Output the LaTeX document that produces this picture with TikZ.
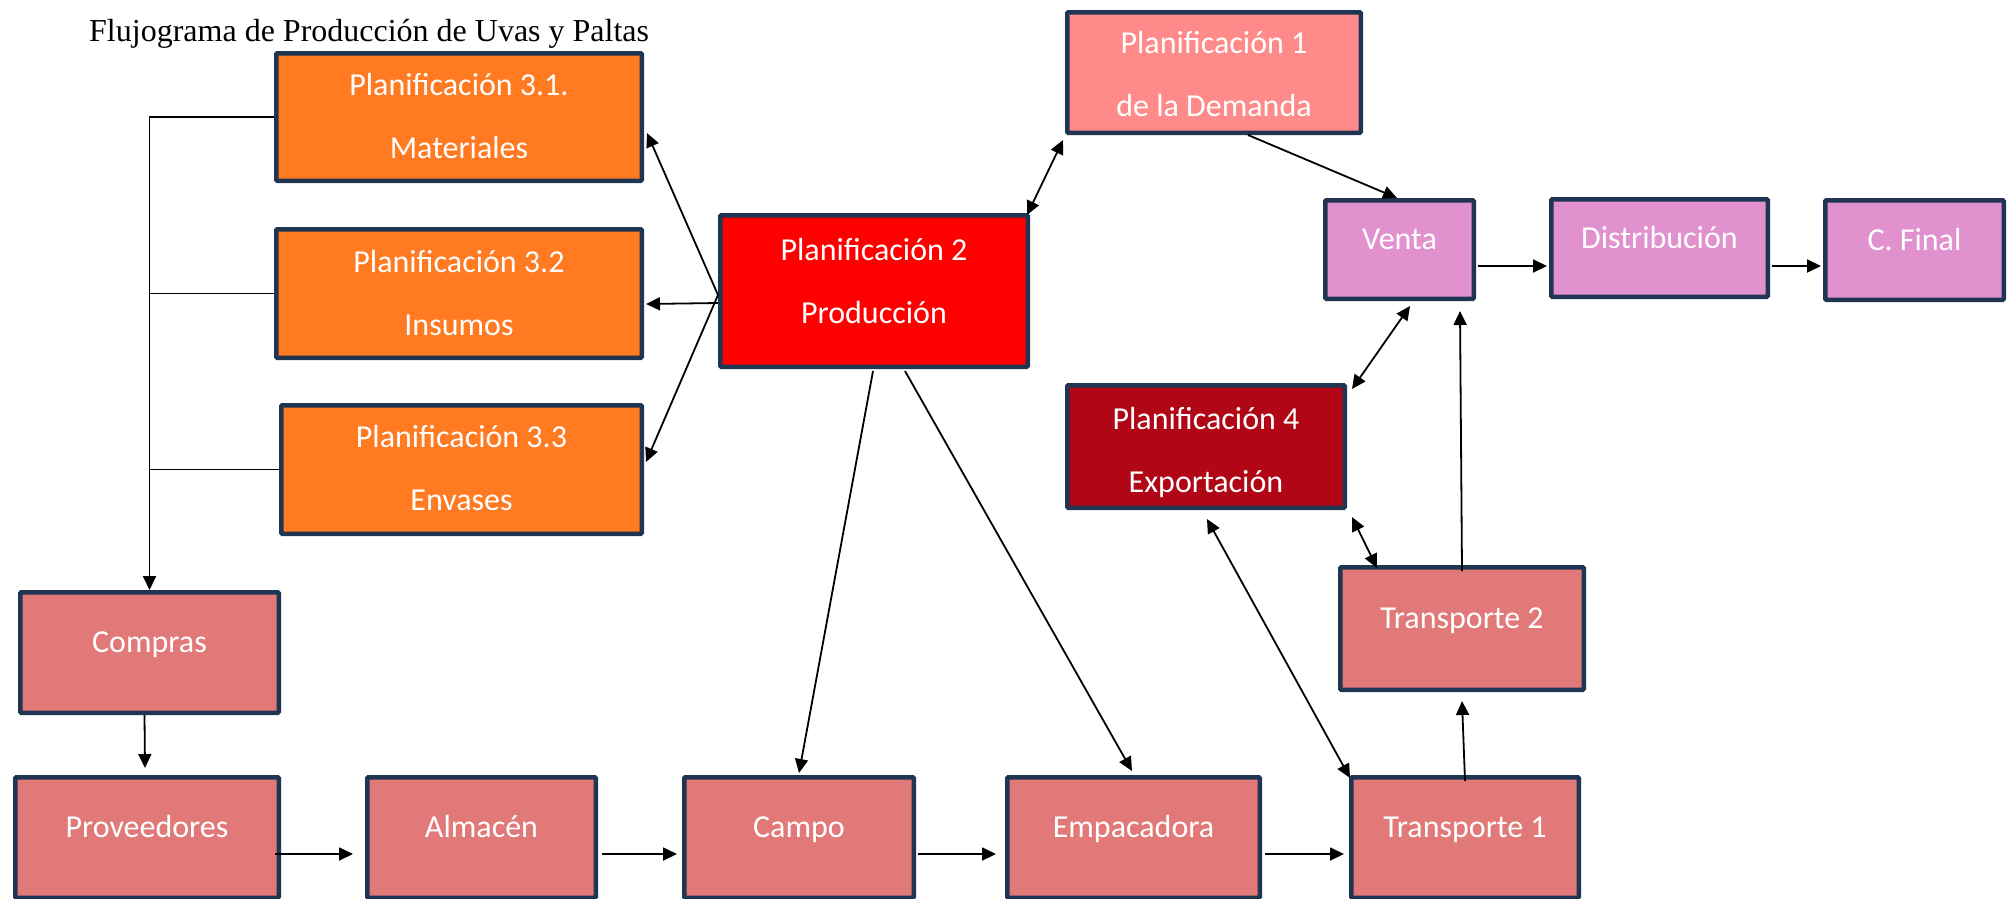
\documentclass[tikz,border=0pt]{standalone}
\usepackage{fontspec}
\setmainfont{Liberation Serif}
\newfontfamily\boxfont{Carlito}
\usetikzlibrary{arrows.meta}

\definecolor{edge}{HTML}{1F3552}
\definecolor{orng}{HTML}{FF7A21}
\definecolor{prodred}{HTML}{FF0000}
\definecolor{salmon}{HTML}{FF8A8A}
\definecolor{rose}{HTML}{E27979}
\definecolor{darkred}{HTML}{B00616}
\definecolor{lilac}{HTML}{E091CE}

% one line: baseline sits on the node centre
\newcommand\oneline[1]{\smash{#1}}
% two lines, 63pt apart; #1 = lift of the first baseline above the centre
\newcommand\twoline[3]{\smash{\makebox[0pt]{\raisebox{#1pt}{#2}}\makebox[0pt]{\raisebox{\dimexpr #1pt-63pt\relax}{#3}}}}

\tikzset{
  box/.style={draw=edge, line width=4.5pt, inner sep=0pt, rounded corners=1pt,
    text=white, font={\boxfont\fontsize{32}{38}\selectfont}},
  tip/.style={Triangle[length=14pt,width=13pt]},
  conn/.style={line width=1.8pt, -{Triangle[length=14pt,width=13pt]}},
  biconn/.style={line width=1.8pt, {Triangle[length=14pt,width=13pt]}-{Triangle[length=14pt,width=13pt]}},
  plain/.style={line width=1.8pt},
}

\begin{document}
\begin{tikzpicture}[x=1pt,y=-1pt]
\useasboundingbox (0,0) rectangle (2007,898);

\node[anchor=base west, inner sep=0pt, font={\fontsize{32}{38}\selectfont}] (title) at (89,41)
  {Flujograma de Producción de Uvas y Paltas};

% planning boxes
\node[box, fill=orng, minimum width=365.5pt, minimum height=127.5pt] (m31) at (459,117)
  {\twoline{22}{Planificación 3.1.}{Materiales}};
\node[box, fill=orng, minimum width=365.5pt, minimum height=128.5pt] (m32) at (459,293.5)
  {\twoline{21}{Planificación 3.2}{Insumos}};
\node[box, fill=orng, minimum width=360.5pt, minimum height=128.5pt] (m33) at (461.5,469.5)
  {\twoline{22}{Planificación 3.3}{Envases}};
\node[box, fill=prodred, minimum width=307.5pt, minimum height=151.5pt] (p2) at (874,291)
  {\twoline{31}{Planificación 2}{Producción}};
\node[box, fill=salmon, minimum width=293.5pt, minimum height=120.5pt] (p1) at (1214,72.5)
  {\twoline{19}{Planificación 1}{de la Demanda}};
\node[box, fill=darkred, minimum width=277.5pt, minimum height=122.5pt] (p4) at (1206,446.5)
  {\twoline{17}{Planificación 4}{Exportación}};

% sales chain
\node[box, fill=lilac, minimum width=148.5pt, minimum height=98.5pt] (venta) at (1399.5,249.5)
  {\oneline{Venta}};
\node[box, fill=lilac, minimum width=216.5pt, minimum height=97.5pt] (dist) at (1659.5,248)
  {\oneline{Distribución}};
\node[box, fill=lilac, minimum width=178.5pt, minimum height=99.5pt] (cfinal) at (1914.5,250)
  {\oneline{C. Final}};

% operations
\node[box, fill=rose, minimum width=258.5pt, minimum height=120.5pt] (compras) at (149.5,652.5)
  {\oneline{Compras}};
\node[box, fill=rose, minimum width=243.5pt, minimum height=122.5pt] (t2) at (1462,628.5)
  {\oneline{Transporte 2}};
\node[box, fill=rose, minimum width=263.5pt, minimum height=120.5pt] (prov) at (147,837.5)
  {\oneline{Proveedores}};
\node[box, fill=rose, minimum width=228.5pt, minimum height=120.5pt] (alm) at (481.5,837.5)
  {\oneline{Almacén}};
\node[box, fill=rose, minimum width=229.5pt, minimum height=120.5pt] (campo) at (799,837.5)
  {\oneline{Campo}};
\node[box, fill=rose, minimum width=252.5pt, minimum height=120.5pt] (emp) at (1133.5,837.5)
  {\oneline{Empacadora}};
\node[box, fill=rose, minimum width=227.5pt, minimum height=120.5pt] (t1) at (1465,837.5)
  {\oneline{Transporte 1}};

% bracket collecting the three planning boxes into Compras
\draw[conn] (m31.west) -| (compras.north);
\draw[plain] (m32.west) -- (m32.west -| compras.north);
\draw[plain] (m33.west) -- (m33.west -| compras.north);

% production planning outputs
\draw[conn] ([yshift=-4pt]p2.west) -- ([xshift=3pt,yshift=-16pt]m31.east);
\draw[conn] ([yshift=-12pt]p2.west) -- ([xshift=2pt,yshift=-10.5pt]m32.east);
\draw[conn] ([yshift=-4pt]p2.west) -- ([xshift=2pt,yshift=7.5pt]m33.east);
\draw[biconn] ([xshift=-3pt,yshift=-2pt]p2.north east) -- ([xshift=-2pt,yshift=-5pt]p1.south west);
\draw[conn] ([xshift=-1pt,yshift=-2pt]p2.south) -- ([yshift=2pt]campo.north);
\draw[conn] ([xshift=31pt,yshift=-2pt]p2.south) -- ([xshift=-1.5pt,yshift=4pt]emp.north);

% demand and export planning
\draw[conn] ([xshift=34pt]p1.south) -- ([xshift=-2.5pt]venta.north);
\draw[biconn] ([xshift=10.5pt,yshift=-5pt]venta.south) -- ([xshift=5pt,yshift=-6pt]p4.north east);
\draw[biconn] ([xshift=5pt,yshift=-7pt]p4.south east) -- ([xshift=39pt,yshift=-3pt]t2.north west);
\draw[biconn] ([xshift=1pt,yshift=-9pt]p4.south) -- ([xshift=1pt,yshift=-3pt]t1.north west);

% sales chain
\draw[conn] ([xshift=2pt,yshift=-16.5pt]venta.east) -- ([xshift=-2pt,yshift=-18pt]dist.west);
\draw[conn] ([xshift=2pt,yshift=-18pt]dist.east) -- ([xshift=-2pt,yshift=-16pt]cfinal.west);

% operations chain
\draw[conn] ([xshift=-5pt]compras.south) -- ([xshift=-2pt,yshift=7pt]prov.north);
\draw[conn] ([xshift=-6pt,yshift=-16.5pt]prov.east) -- ([xshift=-12pt,yshift=-16.5pt]alm.west);
\draw[conn] ([xshift=4pt,yshift=-16.5pt]alm.east) -- ([xshift=-5pt,yshift=-16.5pt]campo.west);
\draw[conn] ([xshift=2pt,yshift=-16.5pt]campo.east) -- ([xshift=-9pt,yshift=-16.5pt]emp.west);
\draw[conn] ([xshift=3pt,yshift=-16.5pt]emp.east) -- ([xshift=-5pt,yshift=-16.5pt]t1.west);
\draw[conn] ([yshift=-6pt]t1.north) -- ([yshift=-9pt]t2.south);
\draw[conn] ([yshift=-6pt]t2.north) -- ([xshift=60.5pt,yshift=-10pt]venta.south);
\end{tikzpicture}
\end{document}
